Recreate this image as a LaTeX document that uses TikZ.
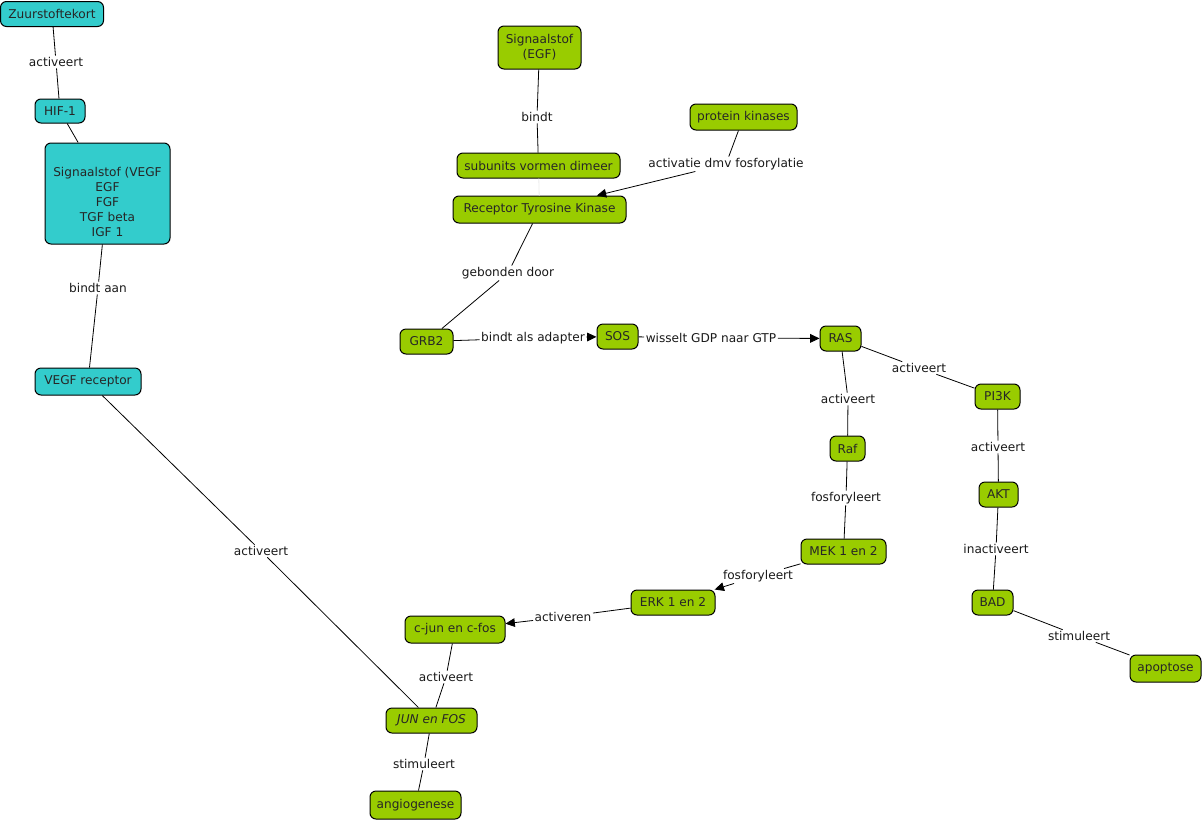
\documentclass[tikz,border=0pt]{standalone}
\usepackage{fontspec}
\setmainfont{DejaVu Sans}
\usetikzlibrary{arrows.meta}
\definecolor{cyanbox}{RGB}{51,204,204}
\definecolor{greenbox}{RGB}{153,204,0}
\tikzset{
  box/.style={draw=black, line width=0.75pt, rounded corners=4.5pt, inner sep=0pt, font=\fontsize{9.1}{11.25}\selectfont, text=black!85, align=center, minimum height=18.75pt},
  cbox/.style={box, fill=cyanbox},
  gbox/.style={box, fill=greenbox},
  lbl/.style={inner sep=1pt, font=\fontsize{9.1}{11.25}\selectfont, text=black!90},
  conn/.style={draw=black, line width=0.6pt},
  arr/.style={conn, -{Triangle[length=7pt,width=6.5pt]}},
}
\begin{document}
\begin{tikzpicture}[x=0.75pt, y=-0.75pt]
\useasboundingbox (0,0) rectangle (1203,822);
% nodes
\node[cbox, minimum width=77.25pt] (zuur) at (52,14) {Zuurstoftekort};
\node[cbox, minimum width=37.5pt, minimum height=18pt] (hif) at (60,111) {HIF-1};
\node[cbox, minimum width=93.75pt, minimum height=75.75pt] (vegf) at (107.5,193.5) {\mbox{}\\[9pt]Signaalstof (VEGF\\EGF\\FGF\\TGF beta\\IGF 1};
\node[cbox, minimum width=79.5pt, minimum height=20.25pt] (vrec) at (88,381.5) {VEGF receptor};
\node[gbox, minimum width=62.25pt, minimum height=32.25pt] (egf) at (539.5,47.5) {Signaalstof\\(EGF)};
\node[gbox, minimum width=122.25pt] (sub) at (538.5,165.5) {subunits vormen dimeer};
\node[gbox, minimum width=80.25pt, minimum height=19.5pt] (pk) at (743.5,117) {protein kinases};
\node[gbox, minimum width=129.75pt, minimum height=20.25pt] (rtk) at (539.5,209.5) {Receptor Tyrosine Kinase};
\node[gbox, minimum width=39.75pt] (grb) at (426.5,341.5) {GRB2};
\node[gbox, minimum width=30.75pt] (sos) at (617.5,336.5) {SOS};
\node[gbox, minimum width=30.75pt] (ras) at (840.5,338.5) {RAS};
\node[gbox, minimum width=33.75pt] (pi3k) at (997.5,396.5) {PI3K};
\node[gbox, minimum width=26.25pt] (raf) at (847.5,448.5) {Raf};
\node[gbox, minimum width=29.25pt] (akt) at (998.5,494.5) {AKT};
\node[gbox, minimum width=63.75pt] (mek) at (843.5,551.5) {MEK 1 en 2};
\node[gbox, minimum width=30.75pt] (bad) at (992.5,602.5) {BAD};
\node[gbox, minimum width=53.25pt, minimum height=20.25pt] (apo) at (1165.5,668.5) {apoptose};
\node[gbox, minimum width=63pt] (erk) at (673,602.5) {ERK 1 en 2};
\node[gbox, minimum width=75pt, minimum height=20.25pt] (cjun) at (455,629.5) {c-jun en c-fos};
\node[gbox, minimum width=68.25pt] (jun) at (431.5,720.5) {\itshape JUN en FOS};
\node[gbox, minimum width=68.25pt, minimum height=21pt] (angio) at (415.5,805) {angiogenese};
% labels
\node[lbl] (l1) at (56,62) {activeert};
\node[lbl] (l2) at (98,288) {bindt aan};
\node[lbl] (l3) at (261,551) {activeert};
\node[lbl] (l4) at (537,117) {bindt};
\node[lbl] (l5) at (726,164) {activatie dmv fosforylatie};
\node[lbl] (l6) at (508,273) {gebonden door};
\node[lbl] (l7) at (533,338) {bindt als adapter};
\node[lbl] (l8) at (711,338) {wisselt GDP naar GTP};
\node[lbl] (l9) at (919,368) {activeert};
\node[lbl] (l10) at (848,399) {activeert};
\node[lbl] (l11) at (998,447) {activeert};
\node[lbl] (l12) at (846,498) {fosforyleert};
\node[lbl] (l13) at (996,549) {inactiveert};
\node[lbl] (l14) at (1079,636) {stimuleert};
\node[lbl] (l15) at (758,576) {fosforyleert};
\node[lbl] (l16) at (563,617) {activeren};
\node[lbl] (l17) at (446,677) {activeert};
\node[lbl] (l18) at (424,764) {stimuleert};
% connectors
\draw[conn] (zuur) -- (l1); \draw[conn] (l1) -- (hif);
\draw[conn] (hif) -- (vegf);
\draw[conn] (vegf) -- (l2); \draw[conn] (l2) -- (vrec);
\draw[conn] (vrec) -- (l3); \draw[conn] (l3) -- (jun);
\draw[conn] (egf) -- (l4); \draw[conn] (l4) -- (sub);
\draw[draw=black!8, line width=0.6pt] (sub) -- (rtk);
\draw[conn] (pk) -- (l5); \draw[arr] (l5) -- (rtk);
\draw[conn] (rtk) -- (l6); \draw[conn] (l6) -- (grb);
\draw[conn] (grb) -- (l7); \draw[arr] (l7) -- (sos);
\draw[conn] (sos) -- (l8); \draw[arr] (l8) -- (ras);
\draw[conn] (ras) -- (l9); \draw[conn] (l9) -- (pi3k);
\draw[conn] (ras) -- (l10); \draw[conn] (l10) -- (raf);
\draw[conn] (pi3k) -- (l11); \draw[conn] (l11) -- (akt);
\draw[conn] (raf) -- (l12); \draw[conn] (l12) -- (mek);
\draw[conn] (akt) -- (l13); \draw[conn] (l13) -- (bad);
\draw[conn] (bad) -- (l14); \draw[conn] (l14) -- (apo);
\draw[conn] (mek) -- (l15); \draw[arr] (l15) -- (erk);
\draw[conn] (erk) -- (l16); \draw[arr] (l16) -- (cjun);
\draw[conn] (cjun) -- (l17); \draw[conn] (l17) -- (jun);
\draw[conn] (jun) -- (l18); \draw[conn] (l18) -- (angio);
\end{tikzpicture}
\end{document}
